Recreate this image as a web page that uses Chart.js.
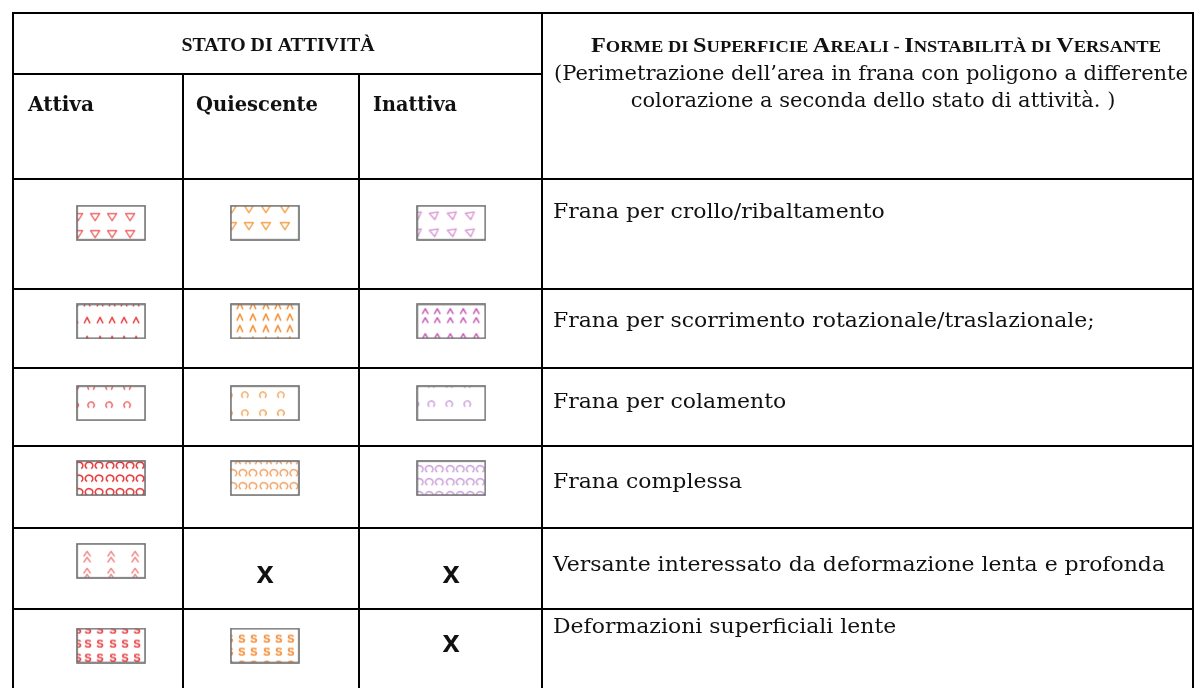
<!DOCTYPE html>
<html>
<head>
<meta charset="utf-8">
<script src="https://cdn.jsdelivr.net/npm/chart.js@4.4.1/dist/chart.umd.min.js"></script>
<style>
  html, body { margin: 0; background: #fff; }
</style>
</head>
<body>
<canvas id="legendaFrane" width="1204" height="693"></canvas>
<script>
// --- dati della legenda ---
const stati = ['Attiva', 'Quiescente', 'Inattiva'];
const forme = [
  'Frana per crollo/ribaltamento',
  'Frana per scorrimento rotazionale/traslazionale;',
  'Frana per colamento',
  'Frana complessa',
  'Versante interessato da deformazione lenta e profonda',
  'Deformazioni superficiali lente'
];
const simboli = ['triangoli', 'cunei', 'archi', 'anelli', 'frecce', 'esse'];
// 1 = simbolo presente, 0 = non previsto (x)
const attiva = [1, 1, 1, 1, 1, 1];
const quiescente = [1, 1, 1, 1, 0, 1];
const inattiva = [1, 1, 1, 1, 0, 0];
const titoloStato = 'STATO DI ATTIVITÀ';
const titoloForme = 'Forme di Superficie Areali - Instabilità di Versante';
const notaForme = [
  '(Perimetrazione dell’area in frana con poligono a differente',
  'colorazione a seconda dello stato di attività. )'
];

// --- impaginazione (pixel) ---
const colX = [8, 179, 357, 541, 1198];
const rowY = [8, 70, 177, 288, 368, 447, 531, 613];
const symX = [107, 262, 450];
const symY = [221, 321, 404, 480, 564, 650];
const descBase = [216, 327, 409, 490, 574, 637];
const xMarkY = [0, 0, 0, 0, 580, 650];
const descLeft = 553;
const descRefW = 612; // larghezza della riga piu' lunga (indice 4)

const palette = {
  triangoli: ['#f06c6c', '#f7a24e', '#d99ad5'],
  cunei: ['#e52d2d', '#f58a2a', '#c254b6'],
  archi: ['#f05a5a', '#f5a55a', '#c99bd8'],
  anelli: ['#e02a2a', '#f3a060', '#c99bd8'],
  frecce: ['#f28c8c', '#f28c8c', '#f28c8c'],
  esse: ['#e8383a', '#f4862a', '#f4862a']
};

const pattern = {
  triangoli: [
    { xs: [1, 18, 35, 53], ys: [11, 28] },
    { xs: [1, 18, 35, 54], ys: [3, 20] },
    { xs: [0, 17, 35, 53], ys: [10, 27], rot: -0.15 }
  ],
  cunei: [
    { xs: [-2, 10, 23, 35, 47, 59], ys: [-1, 16, 35], h: 3 },
    { xs: [-3, 9, 22, 35, 47, 59], ys: [1.5, 13, 24.5, 36], h: 3.4 },
    { xs: [-4, 8, 20, 33, 46, 59], ys: [7, 16, 32], h: 2.6 }
  ],
  archi: [
    { xs: [-2, 14, 32, 50], ys: [1, 19] },
    { xs: [-2, 14, 32, 50], ys: [9, 27] },
    { xs: [-2, 14, 32, 50], ys: [-1, 18] }
  ],
  anelli: [
    { xs: [2, 12, 22, 33, 43, 53, 63], ys: [4.5, 17.5, 31] },
    { xs: [2, 12, 22, 33, 43, 53, 63], ys: [0, 12, 25] },
    { xs: [2, 12, 22, 33, 43, 53, 63], ys: [8, 21, 34] }
  ],
  frecce: [
    { xs: [10, 34, 58], ys: [13, 30] }
  ],
  esse: [
    { xs: [1, 11, 23, 36, 48, 60], ys: [1, 15, 29] },
    { xs: [-1, 11, 23, 36, 48, 60], ys: [-4, 10, 23, 36] }
  ]
};

const shapes = {
  triangoli(g, x, y, p) {
    g.save(); g.translate(x, y); g.rotate(p.rot || 0);
    g.beginPath(); g.moveTo(-4.5, -3.2); g.lineTo(4.5, -3.2); g.lineTo(0, 3.8); g.closePath(); g.stroke();
    g.restore();
  },
  cunei(g, x, y, p) {
    const h = p.h;
    g.beginPath(); g.moveTo(x - 3, y + h); g.lineTo(x, y - h); g.lineTo(x + 3, y + h); g.stroke();
  },
  archi(g, x, y) {
    g.beginPath(); g.arc(x, y, 3.2, Math.PI * 0.5 + 0.65, Math.PI * 2.5 - 0.65); g.stroke();
  },
  anelli(g, x, y) {
    g.beginPath(); g.ellipse(x, y, 3.8, 3.4, 0, Math.PI * 0.5 + 0.55, Math.PI * 2.5 - 0.55); g.stroke();
  },
  frecce(g, x, y) {
    for (const d of [-3, 3]) {
      g.beginPath(); g.moveTo(x - 3.5, y + d + 2.5); g.lineTo(x, y + d - 2.5); g.lineTo(x + 3.5, y + d + 2.5); g.stroke();
    }
  },
  esse(g, x, y) {
    g.font = 'bold 11px "Liberation Sans"';
    g.textAlign = 'center'; g.textBaseline = 'middle';
    g.fillText('S', x, y + 0.5);
  }
};

function makeSymbol(tipo, stato) {
  const c = document.createElement('canvas');
  c.width = 70; c.height = 36;
  const g = c.getContext('2d');
  const p = pattern[tipo][stato];
  g.fillStyle = '#fff'; g.fillRect(1, 1, 68, 34);
  g.save();
  g.beginPath(); g.rect(1, 1, 68, 34); g.clip();
  g.translate(1, 1);
  g.strokeStyle = palette[tipo][stato]; g.fillStyle = palette[tipo][stato];
  g.lineWidth = 1.4; g.lineJoin = 'round';
  p.ys.forEach(y => p.xs.forEach(x => shapes[tipo](g, x, y, p)));
  g.restore();
  g.strokeStyle = '#6c6c6c'; g.lineWidth = 1.6;
  g.strokeRect(1, 1, 68, 34);
  return c;
}

function drawText(ctx, str, x, y, font, k, align) {
  ctx.save();
  ctx.font = font;
  const m = ctx.measureText(str).width;
  const left = align === 'center' ? x - m * k / 2 : x;
  ctx.translate(left, y);
  ctx.scale(k, 1);
  ctx.textAlign = 'left';
  ctx.textBaseline = 'alphabetic';
  ctx.fillText(str, 0, 0);
  ctx.restore();
}

function fitText(ctx, str, x, y, font, w, align) {
  ctx.font = font;
  drawText(ctx, str, x, y, font, w / ctx.measureText(str).width, align);
}

function smallCaps(ctx, str, cx, y, big, small, w) {
  const parts = [];
  str.split(' ').forEach((word, i) => {
    if (i) parts.push([' ', small]);
    const f = word[0];
    if (f !== f.toLowerCase()) {
      parts.push([f, big]);
      parts.push([word.slice(1).toUpperCase(), small]);
    } else {
      parts.push([word.toUpperCase(), small]);
    }
  });
  ctx.save();
  let tot = 0;
  parts.forEach(pt => { ctx.font = pt[1]; pt.push(ctx.measureText(pt[0]).width); tot += pt[2]; });
  const k = w / tot;
  ctx.translate(cx - w / 2, y);
  ctx.scale(k, 1);
  ctx.textBaseline = 'alphabetic';
  let px = 0;
  parts.forEach(pt => { ctx.font = pt[1]; ctx.fillText(pt[0], px, 0); px += pt[2]; });
  ctx.restore();
}

const serif = '"DejaVu Serif", "Liberation Serif", serif';
const serif2 = '"Liberation Serif", "Times New Roman", serif';

const tabella = {
  id: 'tabella',
  beforeDatasetsDraw(chart) {
    const { ctx, scales: { x, y } } = chart;
    const X = v => Math.round(x.getPixelForValue(v));
    const Y = v => Math.round(y.getPixelForValue(v));
    ctx.save();
    ctx.strokeStyle = '#000';
    ctx.lineWidth = 2;
    ctx.beginPath();
    ctx.moveTo(X(colX[0]), Y(693)); ctx.lineTo(X(colX[0]), Y(rowY[0]));
    ctx.lineTo(X(colX[4]), Y(rowY[0])); ctx.lineTo(X(colX[4]), Y(693));
    ctx.moveTo(X(colX[0]), Y(rowY[1])); ctx.lineTo(X(colX[3]), Y(rowY[1]));
    for (let i = 2; i < rowY.length; i++) {
      ctx.moveTo(X(colX[0]), Y(rowY[i])); ctx.lineTo(X(colX[4]), Y(rowY[i]));
    }
    ctx.moveTo(X(colX[1]), Y(rowY[1])); ctx.lineTo(X(colX[1]), Y(693));
    ctx.moveTo(X(colX[2]), Y(rowY[1])); ctx.lineTo(X(colX[2]), Y(693));
    ctx.moveTo(X(colX[3]), Y(rowY[0])); ctx.lineTo(X(colX[3]), Y(693));
    ctx.stroke();

    ctx.fillStyle = '#111';
    fitText(ctx, titoloStato, X(275), Y(47), 'bold 18px ' + serif2, 193, 'center');
    smallCaps(ctx, titoloForme, X(878), Y(48), 'bold 21px ' + serif2, 'bold 16px ' + serif2, 570);
    ctx.font = '20px ' + serif;
    const kn = 634 / ctx.measureText(notaForme[0]).width;
    drawText(ctx, notaForme[0], X(873), Y(76), '20px ' + serif, kn, 'center');
    drawText(ctx, notaForme[1], X(875), Y(104), '20px ' + serif, kn, 'center');

    const headLeft = [23, 193, 371];
    const headW = [66, 122, 84];
    stati.forEach((s, i) => fitText(ctx, s, X(headLeft[i]), Y(108), 'bold 20px ' + serif, headW[i]));

    ctx.font = '20px ' + serif;
    const k = descRefW / ctx.measureText(forme[4]).width;
    forme.forEach((f, i) => drawText(ctx, f, X(descLeft), Y(descBase[i]), '20px ' + serif, k));

    // celle senza simbolo
    ctx.font = 'bold 31px "Liberation Sans", Arial, sans-serif';
    ctx.textAlign = 'center';
    ctx.textBaseline = 'middle';
    [attiva, quiescente, inattiva].forEach((vals, si) => {
      vals.forEach((v, ri) => {
        if (!v) ctx.fillText('x', X(symX[si]), Y(xMarkY[ri]) - 3);
      });
    });
    ctx.restore();
  }
};

const datasets = [attiva, quiescente, inattiva].map((vals, si) => {
  const pts = [];
  const stili = [];
  vals.forEach((v, ri) => {
    if (v) {
      pts.push({ x: symX[si], y: symY[ri] });
      stili.push(makeSymbol(simboli[ri], si));
    }
  });
  return { label: stati[si], data: pts, pointStyle: stili, pointRadius: 4, showLine: false };
});

const ctx = document.getElementById('legendaFrane').getContext('2d');
new Chart(ctx, {
  type: 'scatter',
  data: { datasets },
  options: {
    responsive: false,
    animation: false,
    devicePixelRatio: 1,
    events: [],
    layout: { padding: 0 },
    scales: {
      x: { type: 'linear', min: 0, max: 1204, display: false },
      y: { type: 'linear', min: 0, max: 693, reverse: true, display: false }
    },
    plugins: { legend: { display: false }, tooltip: { enabled: false } }
  },
  plugins: [tabella]
});
</script>
</body>
</html>
